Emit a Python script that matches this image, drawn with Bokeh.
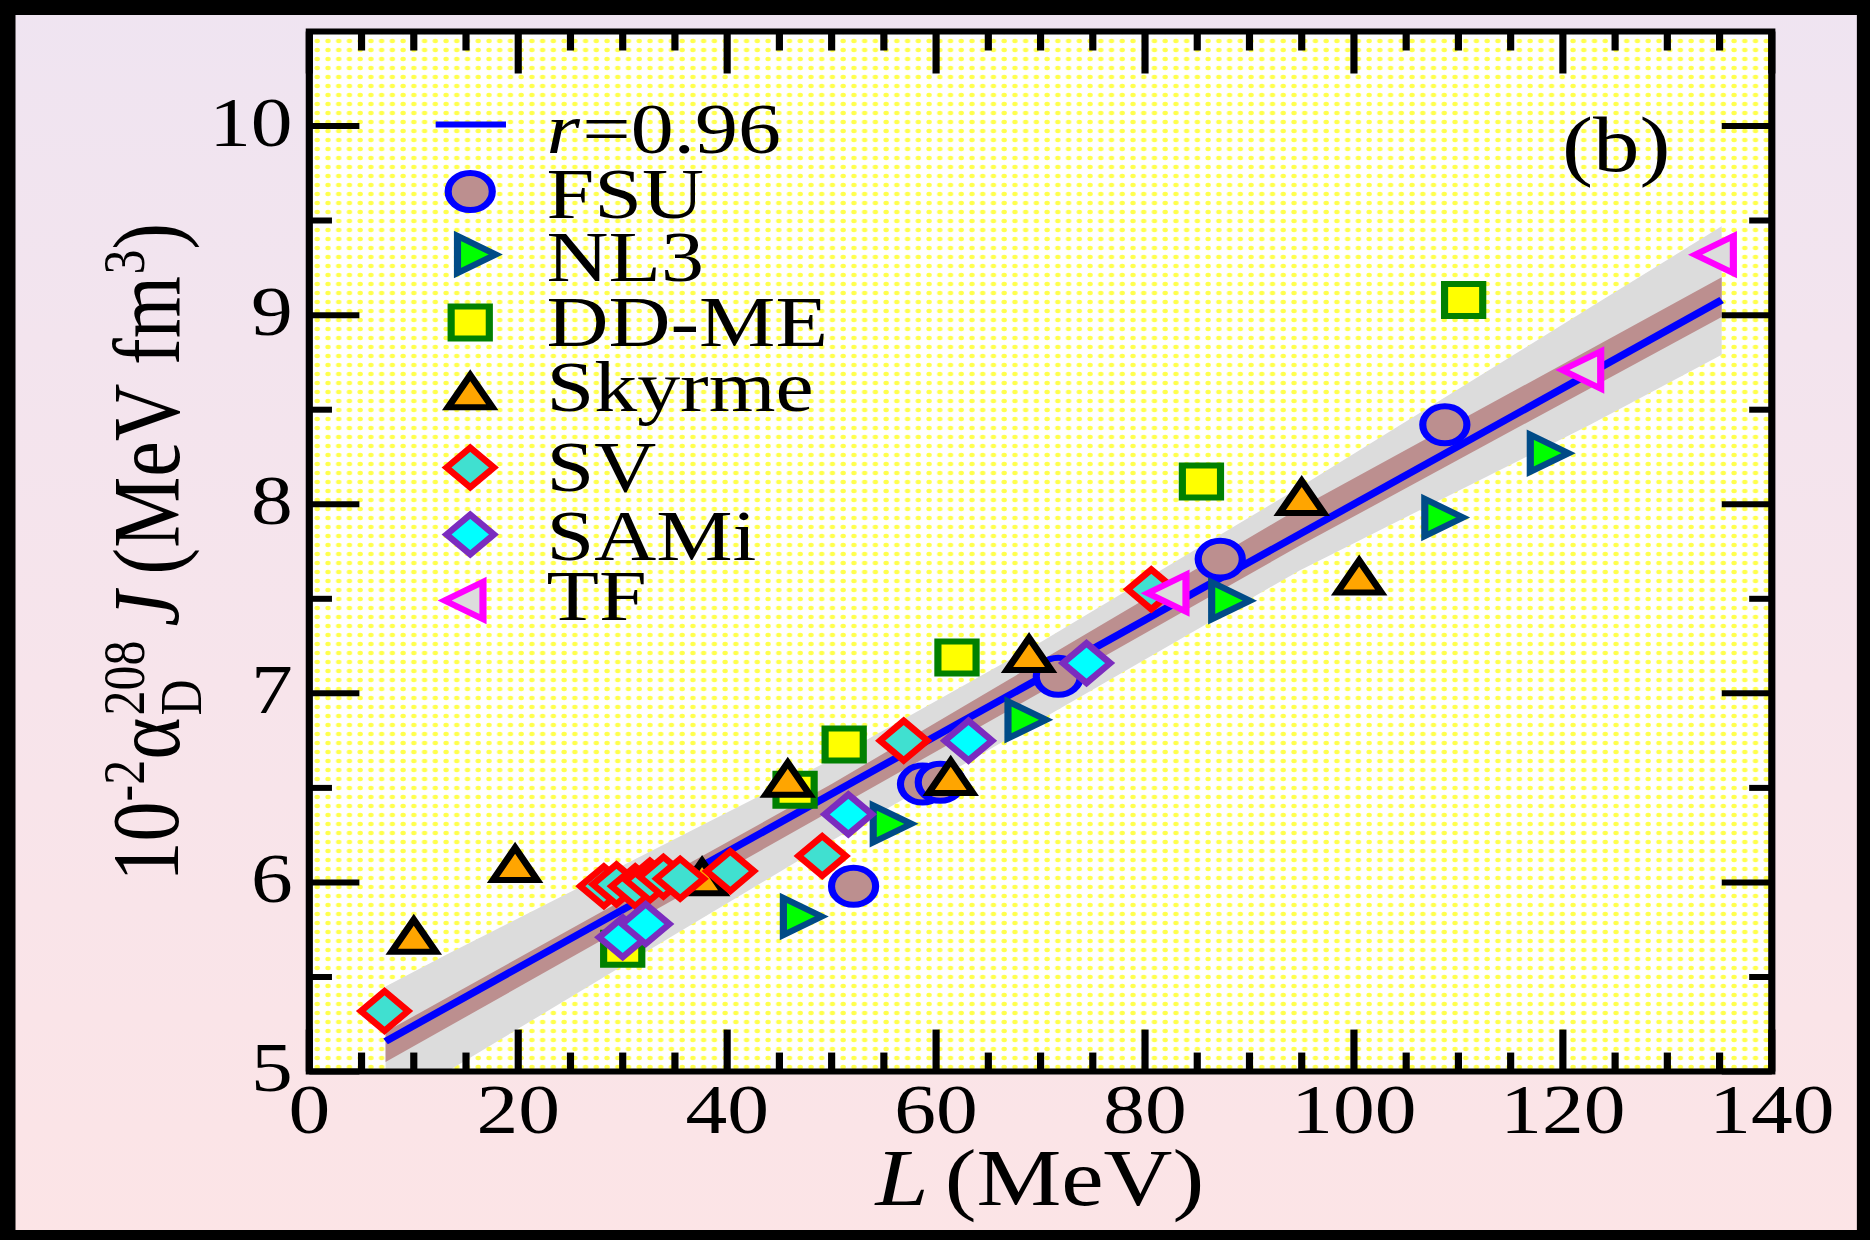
import math

from bokeh.core.properties import value
from bokeh.embed import file_html
from bokeh.models import Label, Range1d
from bokeh.plotting import figure
from bokeh.resources import INLINE

# ---------------------------------------------------------------------------
# Data: slope parameter L (MeV) vs 10^-2 alpha_D(208Pb) J (MeV fm^3)
# ---------------------------------------------------------------------------
fsu_L = [52.1, 58.7, 60.4, 71.7, 87.2, 108.7]
fsu_J = [5.98, 6.52, 6.53, 7.09, 7.71, 8.42]

nl3_L = [46.6, 55.2, 68.1, 87.6, 108.0, 118.1]
nl3_J = [5.82, 6.31, 6.86, 7.49, 7.93, 8.27]

ddme_L = [30.0, 46.5, 51.2, 62.0, 85.4, 110.5]
ddme_J = [5.65, 6.49, 6.73, 7.19, 8.12, 9.08]

skyrme_L = [10.0, 19.7, 37.6, 45.8, 61.4, 68.9, 95.0, 100.5]
skyrme_J = [5.69, 6.07, 6.00, 6.52, 6.53, 7.18, 8.01, 7.59]

sv_L = [7.2, 28.2, 29.4, 31.2, 32.6, 33.9, 35.5, 40.3, 49.1, 56.9, 80.6]
sv_J = [5.32, 5.98, 5.99, 5.98, 6.01, 6.03, 6.02, 6.06, 6.14, 6.75, 7.55]

sami_L = [30.0, 32.2, 51.6, 63.1, 74.4]
sami_J = [5.71, 5.78, 6.36, 6.75, 7.16]

tf_L = [82.7, 122.4, 135.1]
tf_J = [7.53, 8.71, 9.32]

# linear fit (r = 0.96) with its two bands
fit_L = [7.3, 135.2]
fit_J = [5.16, 9.08]

band_L = [7.3, 13.2, 30.0, 50.0, 70.0, 94.8, 122.6, 135.2]
gray_lo = [5.00, 5.00, 5.56, 6.22, 6.86, 7.65, 8.42, 8.79]
gray_hi = [5.45, 5.62, 6.09, 6.65, 7.27, 8.09, 9.04, 9.47]

brown_L = [7.3, 50.0, 94.8, 135.2]
brown_lo = [5.05, 6.38, 7.78, 8.99]
brown_hi = [5.21, 6.52, 7.98, 9.20]

# axes
x_major = [0, 20, 40, 60, 80, 100, 120, 140]
x_tick_labels = ["0", "20", "40", "60", "80", "100", "120", "140"]
x_minor = [5, 10, 15, 25, 30, 35, 45, 50, 55, 65, 70, 75, 85, 90, 95,
           105, 110, 115, 125, 130, 135]
y_major = [5, 6, 7, 8, 9, 10]
y_tick_labels = ["5", "6", "7", "8", "9", "10"]
y_minor = [5.5, 6.5, 7.5, 8.5, 9.5]

fit_label = "=0.96"
panel_tag = "(b)"
X0, X1 = 0, 140
Y0, Y1 = 5, 10.5

# ---------------------------------------------------------------------------
# Geometry of the drawing surface (pixels before the horizontal CSS stretch)
# ---------------------------------------------------------------------------
W, H = 1568, 1240          # element size
SURF_W = 1870              # drawing surface width once the stretch is measured
PX_X = 8.764               # px per MeV
PX_Y = 189.1               # px per unit on the vertical axis
PLOT_LEFT, PLOT_TOP = 259, 31

xs0 = X0 - PLOT_LEFT / PX_X
xs1 = xs0 + SURF_W / PX_X
ys1 = Y1 + PLOT_TOP / PX_Y
ys0 = ys1 - H / PX_Y


def dx(px):
    return xs0 + px / PX_X


def dy(py):
    return ys1 - py / PX_Y


SERIF = "Liberation Serif"
# the text box sits this fraction of the font size below the requested baseline
DROP = 0.38

page_style = {
    "transform": "scaleX(1.1926)",
    "transform-origin": "0 0",
    "overflow": "hidden",
    "background": "linear-gradient(to bottom, #EFE4F1 0%, #F7E4EB 55%, #FCE4E6 100%)",
    "box-shadow": ("inset 0 15px 0 0 #000, inset 0 -10px 0 0 #000, "
                   "inset 13px 0 0 0 #000, inset -11px 0 0 0 #000"),
}

p = figure(
    width=W, height=H,
    x_range=Range1d(xs0, xs1), y_range=Range1d(ys0, ys1),
    x_axis_location=None, y_axis_location=None,
    output_backend="svg", toolbar_location=None,
    min_border=0, styles=page_style,
)
p.border_fill_color = None
p.background_fill_color = None
p.outline_line_color = None
p.xgrid.grid_line_color = None
p.ygrid.grid_line_color = None
p.grid.visible = False

# plotting area with its dotted yellow texture
p.quad(left=[X0], right=[X1], bottom=[Y0], top=[Y1], fill_color="white",
       hatch_pattern="dot", hatch_color="#FFFF00", hatch_scale=9,
       hatch_alpha=0.7, hatch_weight=1, line_color=None)

# ---------------------------------------------------------------------------
# Fit band and line
# ---------------------------------------------------------------------------
p.varea(x=band_L, y1=gray_lo, y2=gray_hi, fill_color="#DCDCDC")
p.varea(x=brown_L, y1=brown_lo, y2=brown_hi, fill_color="#BC8F8F")
p.line(x=fit_L, y=fit_J, line_color="#0000FF", line_width=7)

# ---------------------------------------------------------------------------
# Model families
# ---------------------------------------------------------------------------
series = [
    ("FSU", fsu_L, fsu_J, dict(marker="circle", size=37, angle=0.0,
                                fill_color="#BC8F8F", line_color="#0000FF")),
    ("NL3", nl3_L, nl3_J, dict(marker="triangle", size=37, angle=-math.pi / 2,
                                fill_color="#00FF00", line_color="#004B87")),
    ("DD-ME", ddme_L, ddme_J, dict(marker="square", size=32, angle=0.0,
                                    fill_color="#FFFF00", line_color="#008000")),
    ("Skyrme", skyrme_L, skyrme_J, dict(marker="triangle", size=37, angle=0.0,
                                         fill_color="#FFA500", line_color="#000000")),
    ("SV", sv_L, sv_J, dict(marker="square", size=28, angle=math.pi / 4,
                             fill_color="#40E0D0", line_color="#FF0000")),
    ("SAMi", sami_L, sami_J, dict(marker="square", size=28, angle=math.pi / 4,
                                   fill_color="#00FFFF", line_color="#7B2CBF")),
    ("TF", tf_L, tf_J, dict(marker="triangle", size=37, angle=math.pi / 2,
                             fill_color="#DCDCDC", line_color="#FF00FF")),
]

for name, xs, ys, st in series:
    p.scatter(x=xs, y=ys, line_width=6, line_join="miter", **st)

# ---------------------------------------------------------------------------
# Axes: inward ticks on all four sides, frame, tick labels
# ---------------------------------------------------------------------------
MAJ, MIN = 42, 19          # tick lengths in px
tick_style = dict(line_color="black", line_width=6)


def x_ticks(values, length):
    n = len(values)
    h = length / PX_Y
    p.segment(x0=values + values, x1=values + values,
              y0=[Y0] * n + [Y1] * n, y1=[Y0 + h] * n + [Y1 - h] * n,
              **tick_style)


def y_ticks(values, length):
    n = len(values)
    w = length / PX_X
    p.segment(y0=values + values, y1=values + values,
              x0=[X0] * n + [X1] * n, x1=[X0 + w] * n + [X1 - w] * n,
              **tick_style)


x_ticks(x_major, MAJ)
x_ticks(x_minor, MIN)
y_ticks(y_major, MAJ)
y_ticks(y_minor, MIN)

p.quad(left=[X0], right=[X1], bottom=[Y0], top=[Y1], fill_color=None,
       line_color="black", line_width=6, line_join="miter")

TICK_PX = 70
TICK_FONT = f"{TICK_PX}px"
p.text(x=x_major, y=[dy(1136 - DROP * TICK_PX)] * len(x_major),
       text=x_tick_labels, text_font=value(SERIF), text_font_size=TICK_FONT,
       text_color="black", text_align="center", text_baseline="alphabetic")
p.text(x=[dx(245)] * len(y_major),
       y=[v - (23.5 - DROP * TICK_PX) / PX_Y for v in y_major],
       text=y_tick_labels, text_font=value(SERIF), text_font_size=TICK_FONT,
       text_color="black", text_align="right", text_baseline="alphabetic")


def put(text, px, py, size, style="normal", angle=0.0):
    if angle:
        px -= DROP * size
    else:
        py -= DROP * size
    p.add_layout(Label(x=dx(px), y=dy(py), text=text, angle=angle,
                       text_font=SERIF, text_font_size=f"{size}px",
                       text_font_style=style, text_color="black",
                       text_align="left", text_baseline="alphabetic"))


# ---------------------------------------------------------------------------
# Legend (keys keep the plot's marker size)
# ---------------------------------------------------------------------------
KEY_X = 394
TEXT_X = 458
LEG_FONT = 72
key_rows = [191, 254, 322, 396, 467, 534, 600]
text_rows = [221, 284, 349, 414, 494, 563, 623]

p.line(x=[dx(365), dx(424)], y=[dy(124), dy(124)],
       line_color="#0000FF", line_width=6)
put("r", TEXT_X, 156, LEG_FONT, "italic")
put(fit_label, TEXT_X + 30, 156, LEG_FONT)

for (name, xs, ys, st), ky, ty in zip(series, key_rows, text_rows):
    p.scatter(x=[dx(KEY_X)], y=[dy(ky)], line_width=6, line_join="miter", **st)
    put(name, TEXT_X, ty, LEG_FONT)

put(panel_tag, 1310, 174, 78)

# ---------------------------------------------------------------------------
# Axis titles
# ---------------------------------------------------------------------------
put("L", 734, 1208, 80, "italic")
put("(MeV)", 792, 1208, 80)

# vertical title 10^-2 alpha_D^208 J (MeV fm^3), reading bottom to top
UP = math.pi / 2
BASE_X, SUP_X, SUB_X = 153, 123, 170
y_title = [
    ("10", 881, BASE_X, 80, "normal"),
    ("-2", 801, SUP_X, 50, "normal"),
    ("\u03b1", 759, BASE_X, 80, "normal"),
    ("208", 715, SUP_X, 50, "normal"),
    ("D", 715, SUB_X, 50, "normal"),
    ("J", 626, BASE_X, 80, "italic"),
    ("(MeV fm", 574, BASE_X, 80, "normal"),
    ("3", 274, SUP_X, 50, "normal"),
    (")", 249, BASE_X, 80, "normal"),
]
for txt, ty, tx, fs, fst in y_title:
    put(txt, tx, ty, fs, fst, UP)

open("out.html", "w").write(file_html(p, INLINE))
